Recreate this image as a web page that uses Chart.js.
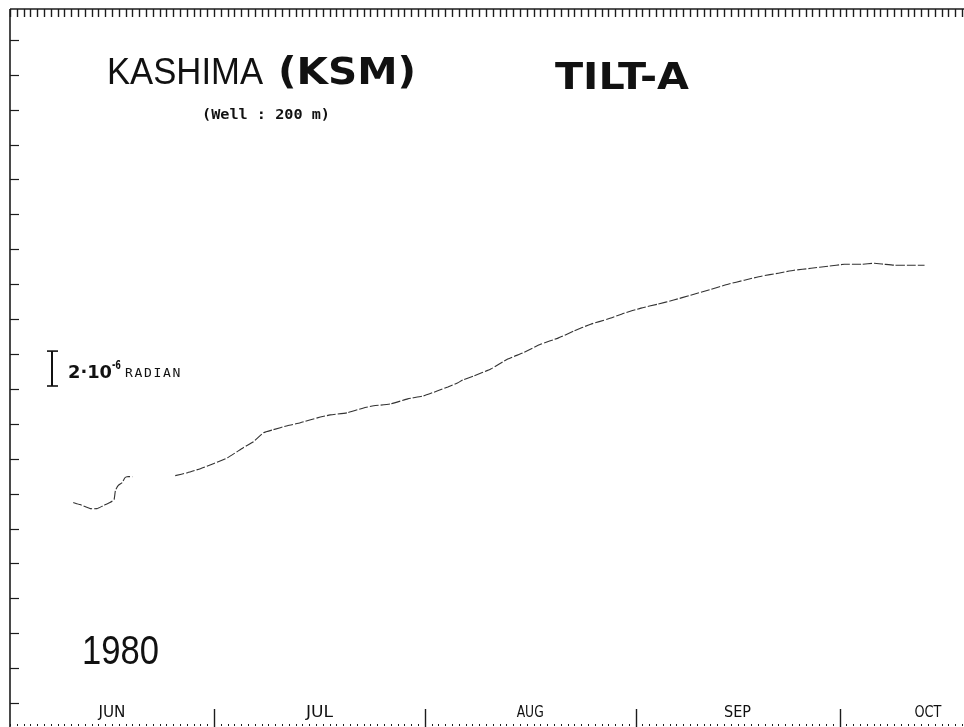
<!DOCTYPE html>
<html>
<head>
<meta charset="utf-8">
<title>KASHIMA (KSM) TILT-A</title>
<script src="https://cdn.jsdelivr.net/npm/chart.js@4/dist/chart.umd.min.js"></script>
<style>
  html, body { margin: 0; padding: 0; background: #fff; overflow: hidden; }
  canvas { display: block; }
</style>
</head>
<body>
<canvas id="tilt" width="964" height="727"></canvas>
<script>
// Day number counted from 1 June 1980 (day 0 = Jun 1)
const days = [
  9.3, 10.3, 11.8, 12.8, 13.7, 14.7, 15.3, 15.5, 15.9, 16.5, 16.9, 17.2, 18.0,
  21.0,
  24.3, 26.1, 28.0, 29.9, 32.0, 34.3, 35.8, 37.3, 38.7, 40.8, 42.7, 45.2, 47.1,
  49.6, 52.0, 53.5, 56.0, 58.5, 60.8, 62.9, 64.4, 65.8, 66.6, 68.2, 70.7, 73.2,
  75.4, 78.1, 80.6, 82.9, 85.4, 87.9, 90.3, 92.8, 95.3, 97.6, 100.1, 103.1,
  105.6, 108.0, 110.5, 113.0, 115.3, 117.8, 120.3, 122.7, 125.2, 127.1, 128.6,
  130.0, 132.5, 134.5
];
// Tilt, in units of 1e-6 radian (relative level); null = no record
const tilt = [
  11.49, 11.37, 11.14, 11.14, 11.31, 11.49, 11.66, 12.17, 12.46, 12.63, 12.91, 12.97, 12.97,
  null,
  13.03, 13.20, 13.43, 13.71, 14.06, 14.63, 14.97, 15.49, 15.66, 15.89, 16.06, 16.34, 16.51,
  16.63, 16.91, 17.03, 17.14, 17.43, 17.60, 17.89, 18.11, 18.34, 18.51, 18.74, 19.14, 19.71,
  20.06, 20.57, 20.91, 21.31, 21.71, 22.00, 22.34, 22.63, 22.86, 23.09, 23.37, 23.71,
  24.00, 24.23, 24.46, 24.63, 24.80, 24.91, 25.03, 25.14, 25.14, 25.20, 25.14,
  25.09, 25.09, 25.09
];
// Month names and the day each month begins
const months = ['JUN', 'JUL', 'AUG', 'SEP', 'OCT'];
const monthStartDays = [0, 30, 61, 92, 122];
const recordEndDay = 148;
// Left-hand tick marks (1e-6 radian)
const yTickValues = [0, 2, 4, 6, 8, 10, 12, 14, 16, 18, 20, 22, 24, 26, 28, 30, 32, 34, 36, 38];
const scaleBarValue = 2; // length of the scale bar, 1e-6 radian

const points = days.map((d, i) => ({ x: d, y: tilt[i] }));

function line(ctx, x1, y1, x2, y2) {
  ctx.beginPath();
  ctx.moveTo(x1, y1);
  ctx.lineTo(x2, y2);
  ctx.stroke();
}

// Draw text with its left edge at x and stretched/squeezed to a given width
function fitText(ctx, text, font, x, baseline, width, spacing) {
  ctx.save();
  ctx.font = font;
  if (spacing) ctx.letterSpacing = spacing;
  const w = ctx.measureText(text).width;
  const k = width ? width / w : 1;
  ctx.translate(x, baseline);
  ctx.scale(k, 1);
  ctx.textAlign = 'left';
  ctx.textBaseline = 'alphabetic';
  ctx.fillText(text, 0, 0);
  ctx.restore();
}

const framePlugin = {
  id: 'recorderFrame',
  afterDraw(chart) {
    const { ctx, chartArea: a, scales } = chart;
    const x = scales.x, y = scales.y;
    ctx.save();
    ctx.strokeStyle = '#1c1c1c';
    ctx.fillStyle = '#1c1c1c';

    // frame: top and left borders
    ctx.lineWidth = 1.6;
    line(ctx, a.left, a.top, a.right, a.top);
    line(ctx, a.left, a.top, a.left, chart.height);

    // daily ticks hanging from the top border
    ctx.lineWidth = 1.4;
    for (let d = 0; d <= x.max; d++) {
      const px = Math.round(x.getPixelForValue(d)) + 0.5;
      line(ctx, px, a.top, px, a.top + 8);
    }

    // tick marks on the left border
    ctx.lineWidth = 1.2;
    for (const v of yTickValues) {
      const py = Math.round(y.getPixelForValue(v)) + 0.5;
      line(ctx, a.left, py, a.left + 9, py);
    }

    // bottom time axis: small daily marks and month separators
    for (let d = 0; d <= x.max; d++) {
      const px = Math.round(x.getPixelForValue(d));
      ctx.fillRect(px, a.bottom - 1, 1, 2);
    }
    ctx.lineWidth = 1.4;
    for (const m of monthStartDays.slice(1)) {
      const px = Math.round(x.getPixelForValue(m)) + 0.5;
      line(ctx, px, a.bottom - 16, px, chart.height);
    }

    // month names centred in each month
    ctx.fillStyle = '#111';
    months.forEach((name, i) => {
      const start = monthStartDays[i];
      const end = i + 1 < monthStartDays.length ? monthStartDays[i + 1] : recordEndDay;
      const cx = x.getPixelForValue((start + end) / 2);
      ctx.save();
      ctx.font = '15px "DejaVu Sans Condensed", "DejaVu Sans"';
      const w = ctx.measureText(name).width;
      ctx.translate(cx, a.bottom - 8);
      ctx.scale(27 / w, 1);
      ctx.textAlign = 'center';
      ctx.fillText(name, 0, 0);
      ctx.restore();
    });

    // titles
    fitText(ctx, 'KASHIMA', '37px "Liberation Sans"', 107, 84, 156);
    fitText(ctx, '(KSM)', 'bold 37px "DejaVu Sans"', 278, 84, 138);
    fitText(ctx, 'TILT-A', 'bold 37px "DejaVu Sans"', 555, 89, 134);
    fitText(ctx, '(Well : 200 m)', 'bold 14px "DejaVu Sans Mono"', 202, 119, 128);
    fitText(ctx, '1980', '41px "Liberation Sans"', 82, 664, 77);

    // scale bar: 2·10^-6 radian
    const barBottom = 386;
    const barLen = y.getPixelForValue(0) - y.getPixelForValue(scaleBarValue);
    ctx.strokeStyle = '#111';
    ctx.lineWidth = 2;
    line(ctx, 52, barBottom, 52, barBottom - barLen);
    ctx.lineWidth = 1.6;
    line(ctx, 47, barBottom, 58, barBottom);
    line(ctx, 47, barBottom - barLen, 58, barBottom - barLen);
    fitText(ctx, '2·10', 'bold 18px "DejaVu Sans"', 68, 378, 44);
    fitText(ctx, '-6', 'bold 12px "DejaVu Sans"', 112, 369, 9);
    fitText(ctx, 'RADIAN', '12px "DejaVu Sans Mono"', 125, 377, 57, '1.5px');

    ctx.restore();
  }
};

new Chart(document.getElementById('tilt'), {
  type: 'line',
  data: {
    datasets: [{
      label: 'TILT-A',
      data: points,
      borderColor: '#333',
      borderWidth: 1.1,
      borderDash: [9, 2],
      pointRadius: 0,
      tension: 0.15,
      spanGaps: false,
      fill: false
    }]
  },
  options: {
    responsive: false,
    animation: false,
    layout: { padding: { left: 10, top: 9, right: 0, bottom: 2 } },
    plugins: { legend: { display: false }, tooltip: { enabled: false }, title: { display: false } },
    scales: {
      x: { type: 'linear', min: 0, max: 140.3, display: false },
      y: { type: 'linear', min: -1.26, max: 39.77, display: false }
    }
  },
  plugins: [framePlugin]
});
</script>
</body>
</html>
